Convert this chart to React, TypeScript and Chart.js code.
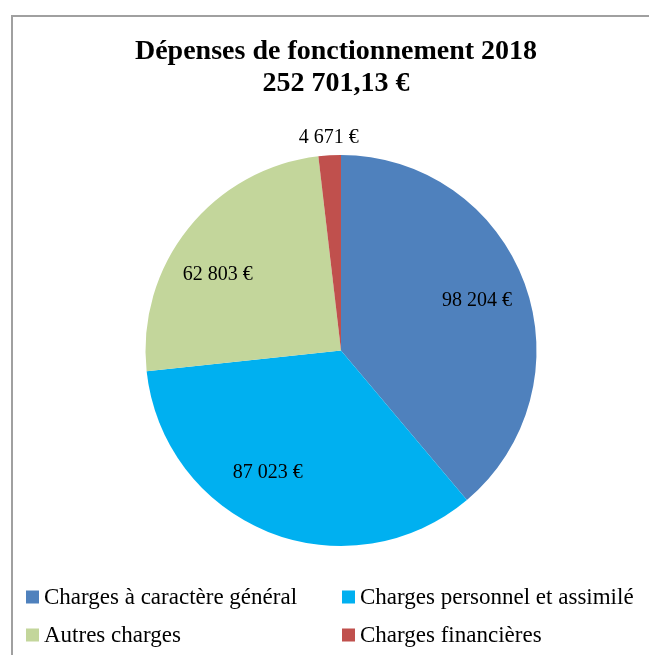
import React, { useEffect, useRef } from "react";
import { Chart, registerables } from "chart.js";

Chart.register(...registerables);

const TITLE_LINES = ["Dépenses de fonctionnement 2018", "252 701,13 €"];
const CATEGORIES = [
  "Charges à caractère général",
  "Charges personnel et assimilé",
  "Autres charges",
  "Charges financières",
];
const VALUES = [98204, 87023, 62803, 4671];
const COLORS = ["#4F81BD", "#00B0F0", "#C3D69B", "#C0504D"];

const FONT = "'Liberation Serif', 'Times New Roman', serif";

function formatEuro(v: number): string {
  return String(v).replace(/\B(?=(\d{3})+(?!\d))/g, " ") + " €";
}

// label placement relative to each slice (fraction of radius, angle nudge in degrees)
const LABEL_RADIUS = [0.74, 0.73, 0.74, 1.09];
const LABEL_SHIFT = [0, 9, -7, 0];

const decorPlugin = {
  id: "decor",
  afterDraw(chart: any) {
    const ctx = chart.ctx as CanvasRenderingContext2D;
    ctx.save();
    // Title
    ctx.fillStyle = "#000";
    ctx.textAlign = "center";
    ctx.textBaseline = "middle";
    ctx.font = `bold 28px ${FONT}`;
    ctx.fillText(TITLE_LINES[0], 336, 52);
    ctx.fillText(TITLE_LINES[1], 336, 84);

    // Data labels
    const meta = chart.getDatasetMeta(0);
    ctx.font = `20px ${FONT}`;
    meta.data.forEach((arc: any, i: number) => {
      const p = arc.getProps(["x", "y", "startAngle", "endAngle", "outerRadius"], true);
      const mid = (p.startAngle + p.endAngle) / 2 + (LABEL_SHIFT[i] * Math.PI) / 180;
      const r = p.outerRadius * LABEL_RADIUS[i];
      ctx.fillText(formatEuro(VALUES[i]), p.x + Math.cos(mid) * r, p.y + Math.sin(mid) * r);
    });

    // Legend (2 columns)
    ctx.font = `23px ${FONT}`;
    ctx.textAlign = "left";
    const colX = [26, 342];
    const rowY = [597, 635];
    CATEGORIES.forEach((name, i) => {
      const x = colX[i % 2];
      const y = rowY[Math.floor(i / 2)];
      ctx.fillStyle = COLORS[i];
      ctx.fillRect(x, y - 6.5, 13, 13);
      ctx.fillStyle = "#000";
      ctx.fillText(name, x + 18, y + 1);
    });
    ctx.restore();
  },
};

export default function App() {
  const ref = useRef<HTMLCanvasElement>(null);
  useEffect(() => {
    if (!ref.current) return;
    const chart = new Chart(ref.current, {
      type: "pie",
      data: {
        labels: CATEGORIES,
        datasets: [
          {
            data: VALUES,
            backgroundColor: COLORS,
            borderWidth: 0,
          },
        ],
      },
      options: {
        responsive: false,
        animation: false,
        devicePixelRatio: 1,
        layout: { padding: { left: 145.5, right: 112.5, top: 155, bottom: 109 } },
        plugins: {
          legend: { display: false },
          tooltip: { enabled: false },
          title: { display: false },
        },
      },
      plugins: [decorPlugin],
    });
    return () => chart.destroy();
  }, []);

  return (
    <div style={{ position: "fixed", left: 0, top: 0, width: 649, height: 655, background: "#fff", overflow: "hidden" }}>
      <div
        style={{
          position: "absolute",
          left: 11,
          top: 15,
          width: 700,
          height: 700,
          border: "2px solid #a0a0a0",
          boxSizing: "border-box",
        }}
      />
      <canvas ref={ref} width={649} height={655} style={{ position: "absolute", left: 0, top: 0, width: 649, height: 655 }} />
    </div>
  );
}
